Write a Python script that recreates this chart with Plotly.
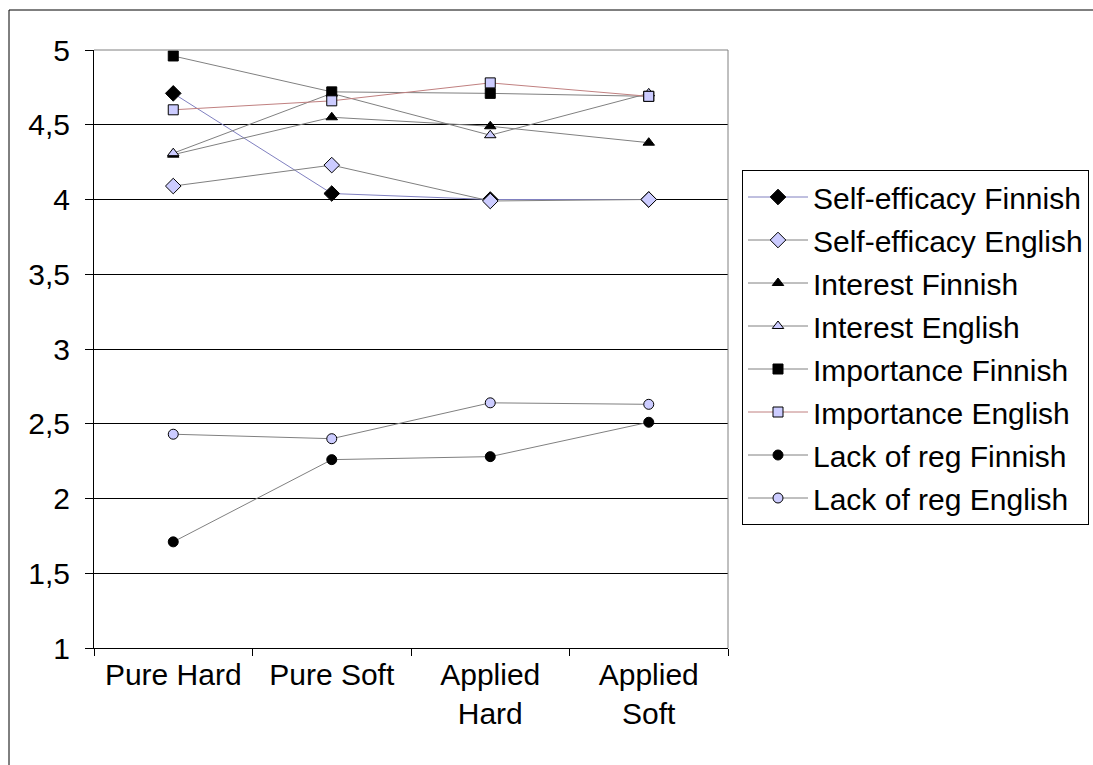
import plotly.graph_objects as go

categories = ["Pure Hard", "Pure Soft", "Applied Hard", "Applied Soft"]
tick_text = ["Pure Hard", "Pure Soft", "Applied<br>Hard", "Applied<br>Soft"]

self_eff_fin = [4.71, 4.04, 4.00, 4.00]
self_eff_eng = [4.09, 4.23, 3.99, 4.00]
interest_fin = [4.30, 4.55, 4.49, 4.38]
interest_eng = [4.31, 4.71, 4.43, 4.71]
importance_fin = [4.96, 4.72, 4.71, 4.69]
importance_eng = [4.60, 4.66, 4.78, 4.69]
lackreg_fin = [1.71, 2.26, 2.28, 2.51]
lackreg_eng = [2.43, 2.40, 2.64, 2.63]

series = [
    ("Self-efficacy Finnish", self_eff_fin, "diamond", "#000000", "#8080c0"),
    ("Self-efficacy English", self_eff_eng, "diamond", "#ccccff", "#808080"),
    ("Interest Finnish", interest_fin, "triangle-up", "#000000", "#808080"),
    ("Interest English", interest_eng, "triangle-up", "#ccccff", "#808080"),
    ("Importance Finnish", importance_fin, "square", "#000000", "#808080"),
    ("Importance English", importance_eng, "square", "#ccccff", "#c08080"),
    ("Lack of reg Finnish", lackreg_fin, "circle", "#000000", "#808080"),
    ("Lack of reg English", lackreg_eng, "circle", "#ccccff", "#808080"),
]

FONT = "Liberation Sans, Arial, sans-serif"
FS = 30

fig = go.Figure()
for i, (name, vals, sym, fill, lc) in enumerate(series):
    size = 12 if sym == "diamond" else 10
    fig.add_trace(go.Scatter(
        x=categories, y=vals, name=name, mode="lines+markers",
        legendgroup=f"g{i}",
        line=dict(color=lc, width=1),
        marker=dict(symbol=sym, size=size, color=fill,
                    line=dict(color="#000000", width=1)),
    ))

L, R, T, B = 94, 728, 50, 648
W, H = 1093, 765
pw, ph = R - L, B - T

def px_x(px):
    return (px - L) / pw

def px_y(py):
    return 1 - (py - T) / ph

fig.update_layout(
    width=W, height=H,
    margin=dict(l=L, r=W - R, t=T, b=H - B, pad=0, autoexpand=False),
    paper_bgcolor="white", plot_bgcolor="white",
    separators=", ",
    font=dict(family=FONT, size=FS, color="#000000"),
    showlegend=True,
    legend=dict(
        x=px_x(742), y=px_y(170), xanchor="left", yanchor="top",
        bordercolor="#000000", borderwidth=1, bgcolor="white",
        font=dict(family=FONT, size=FS, color="#000000"),
        tracegroupgap=1, itemwidth=60,
    ),
    xaxis=dict(
        tickvals=categories, ticktext=tick_text,
        range=[-0.5, 3.5],
        tickson="boundaries", ticks="outside", ticklen=7,
        tickcolor="#000000", showline=True, linecolor="#000000",
        linewidth=1, showgrid=False, zeroline=False,
        tickfont=dict(family=FONT, size=FS, color="#000000"),
    ),
    yaxis=dict(
        range=[1, 5], dtick=0.5, tick0=1,
        ticks="outside", ticklen=8, tickcolor="#000000",
        ticklabelstandoff=9,
        showline=True, linecolor="#000000", linewidth=1,
        showgrid=True, gridcolor="#000000", gridwidth=1,
        zeroline=False,
        tickfont=dict(family=FONT, size=FS, color="#000000"),
    ),
    shapes=[
        dict(type="line", xref="paper", yref="paper", x0=0, x1=1, y0=1, y1=1,
             line=dict(color="#808080", width=1), layer="above"),
        dict(type="line", xref="paper", yref="paper", x0=1, x1=1, y0=0, y1=1,
             line=dict(color="#808080", width=1), layer="above"),
        dict(type="rect", xref="paper", yref="paper",
             x0=px_x(9), x1=px_x(1200), y0=px_y(900), y1=px_y(10),
             line=dict(color="#000000", width=1), fillcolor="rgba(0,0,0,0)",
             layer="below"),
    ],
)

fig.write_html("out.html", config={"displayModeBar": False},
               post_script="document.body.style.margin='0px';")
